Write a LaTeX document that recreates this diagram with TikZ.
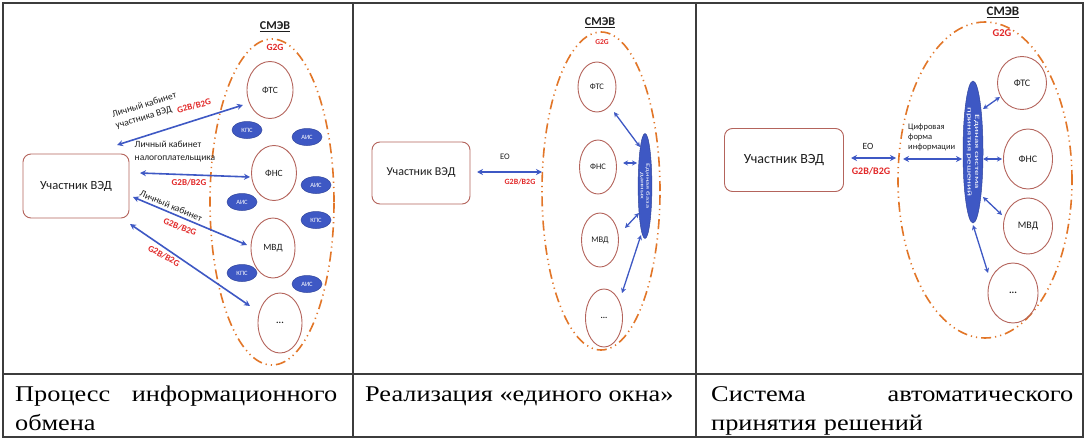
\documentclass[tikz,border=0pt]{standalone}
\usepackage{fontspec}
\setmainfont{Liberation Serif}[FakeStretch=1.17]
\newfontfamily\calf{Carlito}
\newfontfamily\calwide{Carlito}[FakeStretch=1.7]
\usetikzlibrary{shapes.geometric,arrows.meta}
\definecolor{bord}{RGB}{180,100,92}
\definecolor{arblue}{RGB}{62,88,196}
\definecolor{orng}{RGB}{226,118,40}
\definecolor{redt}{RGB}{226,40,40}
\definecolor{txt}{RGB}{30,30,30}
\definecolor{tblline}{RGB}{60,60,60}
\tikzset{
  vbox/.style={draw=bord, line width=0.9pt, rounded corners=8pt, fill=white, text=txt, inner sep=0pt},
  org/.style={ellipse, draw=bord, line width=0.9pt, inner sep=0pt, text=txt},
  smev/.style={ellipse, draw=orng, line width=1.6pt, inner sep=0pt,
    dash pattern=on 10pt off 4pt on 1.2pt off 4pt on 1.2pt off 4pt},
  sys/.style={ellipse, fill=arblue, draw=arblue!80!black, line width=0.5pt, inner sep=0pt, text=white},
  link/.style={arblue, line width=1.6pt, {Stealth[length=6pt,width=6pt]}-{Stealth[length=6pt,width=6pt]}},
  slink/.style={arblue, line width=1.3pt, {Stealth[length=5pt,width=5pt]}-{Stealth[length=5pt,width=5pt]}},
  lbl/.style={text=txt, inner sep=0pt, align=left},
  g2b/.style={text=redt, inner sep=0pt},
  ttl/.style={text=txt, inner sep=0pt},
  cell/.style={anchor=base west, inner sep=0pt, font=\fontsize{22.5}{29}\selectfont, text=black},
  tbl/.style={tblline, line width=1.2pt},
}
\begin{document}
\begin{tikzpicture}[x=1pt,y=-1pt]
\useasboundingbox (0,0) rectangle (1087,439);
\fill[white] (0,0) rectangle (1087,439);
% ---------- table ----------
\draw[tbl] (3,3) rectangle (1083,437);
\draw[tbl] (3,374) -- (1083,374);
\draw[tbl] (353,3) -- (353,437);
\draw[tbl] (696,3) -- (696,437);
\node[cell, text width=322pt] (c1) at (15,401) {Процесс\hfill информационного\\обмена};
\node[cell] (c2) at (365,401) {Реализация «единого окна»};
\node[cell, text width=362pt] (c3) at (711,401) {Система\hfill автоматического\\принятия решений};

% ---------- panel 1 ----------
\node[smev, minimum width=124pt, minimum height=326pt] (smev1) at (272,202) {};
\node[ttl, font=\calf\bfseries\fontsize{12}{14}\selectfont] (smevt1) at (275,27) {\underline{СМЭВ}};
\node[g2b, font=\calf\bfseries\fontsize{9.5}{11}\selectfont] (g2g1) at (275,47) {G2G};
\node[vbox, minimum width=106pt, minimum height=64pt, font=\calf\fontsize{12.5}{14}\selectfont] (ved1) at (76,186) {Участник ВЭД};
\begin{scope}[every node/.append style={font=\calf\fontsize{9.5}{11}\selectfont}]
\node[org, minimum width=46pt, minimum height=57pt] (fts1) at (270,90) {ФТС};
\node[org, minimum width=45pt, minimum height=55pt] (fns1) at (274,173) {ФНС};
\node[org, minimum width=44pt, minimum height=60pt] (mvd1) at (273,248) {МВД};
\node[org, minimum width=44pt, minimum height=60pt] (dots1) at (280,323) {\textbf{...}};
\end{scope}
\begin{scope}[every node/.append style={font=\calf\fontsize{6.5}{7}\selectfont}]
\node[sys, minimum width=30pt, minimum height=17pt] (s1) at (247,130) {КПС};
\node[sys, minimum width=30pt, minimum height=17pt] (s2) at (307,137) {АИС};
\node[sys, minimum width=30pt, minimum height=17pt] (s3) at (316,185) {АИС};
\node[sys, minimum width=30pt, minimum height=17pt] (s4) at (242,202) {АИС};
\node[sys, minimum width=30pt, minimum height=17pt] (s5) at (316,220) {КПС};
\node[sys, minimum width=30pt, minimum height=17pt] (s6) at (242,273) {КПС};
\node[sys, minimum width=30pt, minimum height=17pt] (s7) at (307,284) {АИС};
\end{scope}
\coordinate (a1l) at (117,145); \coordinate (a1r) at (243,105);
\coordinate (a2l) at (140,173); \coordinate (a2r) at (250,177);
\coordinate (a3l) at (133,197); \coordinate (a3r) at (247,245);
\coordinate (a4l) at (130,224); \coordinate (a4r) at (250,306);
\draw[link] (a1l) -- (a1r);
\draw[link] (a2l) -- (a2r);
\draw[link] (a3l) -- (a3r);
\draw[link] (a4l) -- (a4r);
\node[lbl, rotate=17, font=\calf\fontsize{9.5}{12}\selectfont] (l1) at (146,111) {Личный кабинет\\участника ВЭД};
\node[g2b, rotate=15, font=\calf\bfseries\fontsize{9}{10}\selectfont] (g1) at (194,106) {G2B/B2G};
\node[lbl, font=\calf\fontsize{9.5}{13}\selectfont] (l2) at (175,152) {Личный кабинет\\налогоплательщика};
\node[g2b, font=\calf\bfseries\fontsize{9}{10}\selectfont] (g2) at (189,183) {G2B/B2G};
\node[lbl, rotate=-23, font=\calf\fontsize{9.5}{12}\selectfont] (l3) at (171,206) {Личный кабинет};
\node[g2b, rotate=-21, font=\calf\bfseries\fontsize{9}{10}\selectfont] (g3) at (180,227) {G2B/B2G};
\node[g2b, rotate=-29, font=\calf\bfseries\fontsize{9}{10}\selectfont] (g4) at (164,256) {G2B/B2G};

% ---------- panel 2 ----------
\node[smev, minimum width=118pt, minimum height=318pt] (smev2) at (601,191) {};
\node[ttl, font=\calf\bfseries\fontsize{12}{14}\selectfont] (smevt2) at (600,23) {\underline{СМЭВ}};
\node[g2b, font=\calf\bfseries\fontsize{7.5}{9}\selectfont] (g2g2) at (602,42) {G2G};
\node[vbox, minimum width=98pt, minimum height=62pt, font=\calf\fontsize{12}{14}\selectfont] (ved2) at (421,173) {Участник ВЭД};
\begin{scope}[every node/.append style={font=\calf\fontsize{8.5}{10}\selectfont}]
\node[org, minimum width=38pt, minimum height=50pt] (fts2) at (597,87) {ФТС};
\node[org, minimum width=37pt, minimum height=54pt] (fns2) at (598,167) {ФНС};
\node[org, minimum width=37pt, minimum height=54pt] (mvd2) at (600,240) {МВД};
\node[org, minimum width=37pt, minimum height=58pt] (dots2) at (604,318) {\textbf{...}};
\end{scope}
\node[sys, rotate=-90, minimum width=105pt, minimum height=13pt, align=center, font=\calwide\fontsize{5}{5.5}\selectfont] (db) at (645,186) {Единая база\\данных};
\coordinate (e2l) at (477,172); \coordinate (e2r) at (542,172);
\draw[link] (e2l) -- (e2r);
\node[ttl, font=\calf\fontsize{8.5}{10}\selectfont] (eo2) at (505,157) {EO};
\node[g2b, font=\calf\bfseries\fontsize{8}{9}\selectfont] (g5) at (520,182) {G2B/B2G};
\coordinate (b1a) at (614,112); \coordinate (b1b) at (640,147);
\coordinate (b2a) at (623,163); \coordinate (b2b) at (637,163);
\coordinate (b3a) at (625,228); \coordinate (b3b) at (639,213);
\coordinate (b4a) at (622,293); \coordinate (b4b) at (641,235);
\draw[slink] (b1a) -- (b1b);
\draw[slink] (b2a) -- (b2b);
\draw[slink] (b3a) -- (b3b);
\draw[slink] (b4a) -- (b4b);

% ---------- panel 3 ----------
\node[smev, minimum width=174pt, minimum height=316pt] (smev3) at (985,180) {};
\node[ttl, font=\calf\bfseries\fontsize{13}{15}\selectfont] (smevt3) at (1003,12) {\underline{СМЭВ}};
\node[g2b, font=\calf\bfseries\fontsize{10.5}{12}\selectfont] (g2g3) at (1002,33) {G2G};
\node[vbox, minimum width=119pt, minimum height=63pt, font=\calf\fontsize{14}{16}\selectfont] (ved3) at (784,160) {Участник ВЭД};
\begin{scope}[every node/.append style={font=\calf\fontsize{10}{12}\selectfont}]
\node[org, minimum width=49pt, minimum height=53pt] (fts3) at (1022,83) {ФТС};
\node[org, minimum width=49pt, minimum height=60pt] (fns3) at (1028,159) {ФНС};
\node[org, minimum width=49pt, minimum height=56pt] (mvd3) at (1028,226) {МВД};
\node[org, minimum width=50pt, minimum height=60pt] (dots3) at (1013,293) {\textbf{...}};
\end{scope}
\node[sys, rotate=-90, minimum width=142pt, minimum height=20pt, align=center, font=\calwide\fontsize{6.5}{7.5}\selectfont] (dec) at (973,152) {Единая система\\принятия решений};
\coordinate (e3l) at (851,158); \coordinate (e3r) at (896,158);
\draw[link] (e3l) -- (e3r);
\node[ttl, font=\calf\fontsize{9.5}{11}\selectfont] (eo3) at (868,146) {EO};
\node[g2b, font=\calf\bfseries\fontsize{10}{12}\selectfont] (g6) at (871,171) {G2B/B2G};
\coordinate (d1) at (903,159); \coordinate (d2) at (962,159);
\draw[link] (d1) -- (d2);
\node[lbl, anchor=north west, font=\calf\fontsize{8.5}{10}\selectfont] (dig) at (908,124) {Цифровая\\форма\\информации};
\coordinate (c1a) at (983,109); \coordinate (c1b) at (1000,97);
\coordinate (c2a) at (983,159); \coordinate (c2b) at (1002,159);
\coordinate (c3a) at (983,197); \coordinate (c3b) at (1002,215);
\coordinate (c4a) at (973,225); \coordinate (c4b) at (988,273);
\draw[slink] (c1a) -- (c1b);
\draw[slink] (c2a) -- (c2b);
\draw[slink] (c3a) -- (c3b);
\draw[slink] (c4a) -- (c4b);
\end{tikzpicture}
\end{document}
